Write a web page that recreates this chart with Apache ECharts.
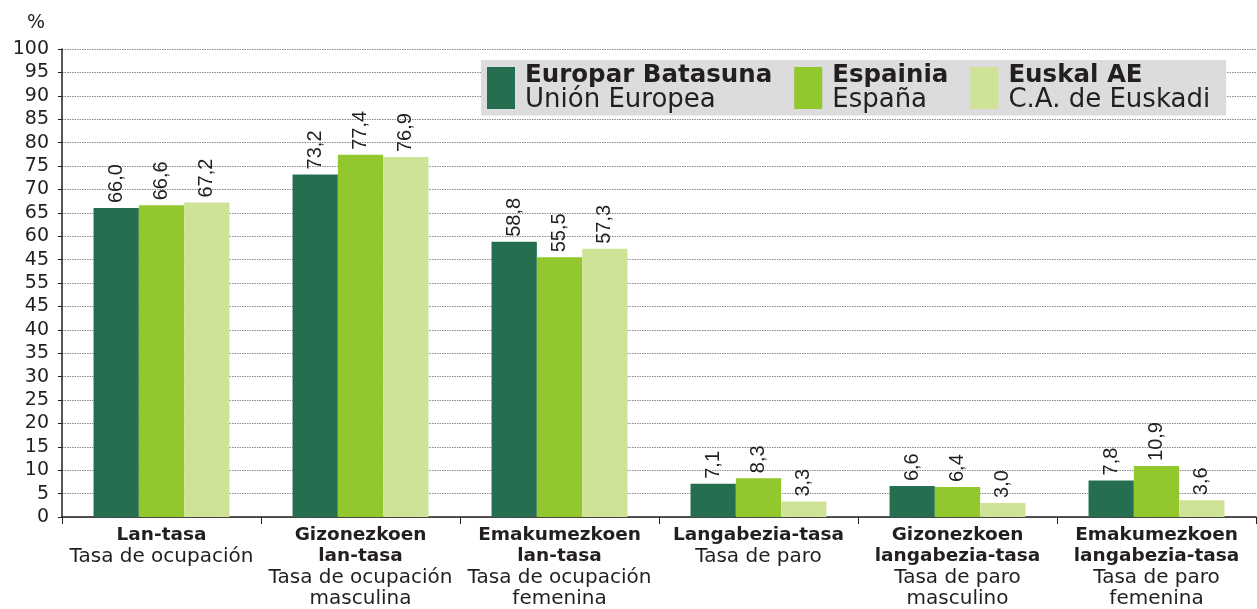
<!DOCTYPE html>
<html>
<head>
<meta charset="utf-8">
<script src="https://cdn.jsdelivr.net/npm/echarts@6/dist/echarts.min.js"></script>
<style>
  html, body { margin: 0; padding: 0; background: #fff; }
  #chart { width: 1257px; height: 609px; }
</style>
</head>
<body>
<div id="chart"></div>
<script>
// category labels: bold (Basque) lines + regular (Spanish) lines
const catBold = [['Lan-tasa'], ['Gizonezkoen', 'lan-tasa'], ['Emakumezkoen', 'lan-tasa'],
  ['Langabezia-tasa'], ['Gizonezkoen', 'langabezia-tasa'], ['Emakumezkoen', 'langabezia-tasa']];
const catSub = [['Tasa de ocupación'], ['Tasa de ocupación', 'masculina'], ['Tasa de ocupación', 'femenina'],
  ['Tasa de paro'], ['Tasa de paro', 'masculino'], ['Tasa de paro', 'femenina']];

const seriesNames = ['Europar Batasuna', 'Espainia', 'Euskal AE'];
const seriesSub = ['Unión Europea', 'España', 'C.A. de Euskadi'];

const euValues = [66.0, 73.2, 58.8, 7.1, 6.6, 7.8];
const esValues = [66.6, 77.4, 55.5, 8.3, 6.4, 10.9];
const caeValues = [67.2, 76.9, 57.3, 3.3, 3.0, 3.6];

// y tick labels bottom to top, as printed in the original (incl. its 45/55/45 quirk)
const yTickLabels = ['0', '5', '10', '15', '20', '25', '30', '35', '40', '45', '55', '45',
  '60', '65', '70', '75', '80', '85', '90', '95', '100'];
const yTicks = { min: 0, max: 100, step: 5 };

const colors = ['#256f50', '#92c72e', '#cfe397'];
const TXT = '#231f20';
const SANS = '"DejaVu Sans", sans-serif';

const chart = echarts.init(document.getElementById('chart'));

function mkSeries(name, data, color) {
  return {
    name: name,
    type: 'bar',
    data: data,
    barGap: '0%',
    barCategoryGap: '31.7%',
    itemStyle: { color: color },
    label: {
      show: true,
      position: 'top',
      rotate: 90,
      align: 'left',
      verticalAlign: 'middle',
      distance: 5,
      fontFamily: '"Liberation Sans", Arial, sans-serif',
      fontSize: 20,
      color: TXT,
      formatter: p => p.value.toFixed(1).replace('.', ',')
    }
  };
}

chart.setOption({
  animation: false,
  title: {
    text: '%',
    left: 22,
    top: 9,
    textStyle: { fontFamily: SANS, fontSize: 19, fontWeight: 'normal', color: TXT }
  },
  grid: { left: 62, right: 1, top: 49, bottom: 92 },
  legend: {
    left: 481,
    top: 60,
    padding: [3, 16, 2, 6],
    backgroundColor: '#dcdcdc',
    itemGap: 22,
    itemWidth: 28,
    itemHeight: 42,
    icon: 'rect',
    data: seriesNames,
    formatter: name => {
      const i = seriesNames.indexOf(name);
      return '{b|' + name + '}\n{r|' + seriesSub[i] + '}';
    },
    textStyle: {
      padding: [0, 0, 0, 5],
      rich: {
        b: { fontFamily: SANS, fontWeight: 'bold', fontSize: 24.5, lineHeight: 25, color: TXT },
        r: { fontFamily: SANS, fontSize: 26, lineHeight: 25, color: TXT }
      }
    }
  },
  xAxis: {
    type: 'category',
    data: catBold.map(l => l.join(' ')),
    axisLine: { lineStyle: { color: '#231f20', width: 1.5 } },
    axisTick: { show: true, length: 7, interval: 0, lineStyle: { color: '#231f20' } },
    axisLabel: {
      interval: 0,
      margin: 8,
      formatter: (v, i) => catBold[i].map(s => '{b|' + s + '}').concat(catSub[i].map(s => '{r|' + s + '}')).join('\n'),
      rich: {
        b: { fontFamily: SANS, fontWeight: 'bold', fontSize: 18.5, lineHeight: 21, color: TXT, align: 'center' },
        r: { fontFamily: SANS, fontSize: 20, lineHeight: 21, color: TXT, align: 'center' }
      }
    }
  },
  yAxis: {
    type: 'value',
    min: yTicks.min,
    max: yTicks.max,
    interval: yTicks.step,
    axisLine: { show: true, lineStyle: { color: '#231f20', width: 1.5 } },
    axisTick: { show: true, length: 4, lineStyle: { color: '#231f20' } },
    axisLabel: {
      fontFamily: SANS, fontSize: 19, color: TXT, margin: 13,
      formatter: v => yTickLabels[Math.round((v - yTicks.min) / yTicks.step)]
    },
    splitLine: { lineStyle: { color: '#8a8a8a', type: [1.5, 1], width: 1 } }
  },
  series: [
    mkSeries(seriesNames[0], euValues, colors[0]),
    mkSeries(seriesNames[1], esValues, colors[1]),
    mkSeries(seriesNames[2], caeValues, colors[2])
  ]
});
</script>
</body>
</html>
